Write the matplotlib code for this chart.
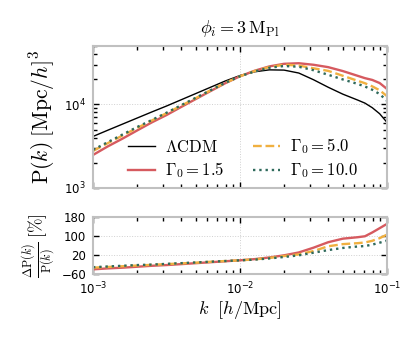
import numpy as np
import matplotlib
matplotlib.use("Agg")
import matplotlib.pyplot as plt
from matplotlib.ticker import FixedLocator, NullFormatter

# ---- data ----
log_k = [-3.0, -2.9, -2.8, -2.7, -2.6, -2.5, -2.4, -2.3, -2.2, -2.1, -2.0,
         -1.9, -1.8, -1.7, -1.6, -1.5, -1.4, -1.3, -1.2, -1.15, -1.1, -1.05, -1.0]
log_P_lcdm = [3.616, 3.690, 3.763, 3.836, 3.909, 3.980, 4.055, 4.130, 4.205, 4.280, 4.345,
              4.390, 4.413, 4.410, 4.375, 4.295, 4.205, 4.122, 4.052, 4.015, 3.960, 3.888, 3.785]
ratio_g15 = [-40, -36, -33, -29, -25, -22, -18, -14, -10, -6, -2,
             3, 10, 19, 31, 51, 74, 89, 95, 99, 115, 133, 151]
ratio_g50 = [-33, -30, -27, -24, -21, -18, -15, -12, -8, -5, -2,
             2, 8, 16, 23, 37, 57, 66, 70, 73, 80, 91, 106]
ratio_g100 = [-31, -28, -25, -22, -20, -17, -14, -11, -8, -5, -2,
              1, 6, 12, 19, 30, 41, 50, 56, 58, 64, 72, 81]

labels = [r"$\Lambda\mathrm{CDM}$", r"$\Gamma_0 = 1.5$", r"$\Gamma_0 = 5.0$", r"$\Gamma_0 = 10.0$"]
colors = ["black", "#d65a5f", "#f0b040", "#2f6a5c"]
styles = ["-", "-", "--", ":"]
widths = [1.0, 1.7, 1.7, 1.7]

k = 10 ** np.array(log_k)
P_lcdm = 10 ** np.array(log_P_lcdm)
ratios = [np.array(ratio_g15), np.array(ratio_g50), np.array(ratio_g100)]
P_models = [P_lcdm * (1 + r / 100.0) for r in ratios]

fig = plt.figure(figsize=(4.15, 3.38), dpi=100)
ax1 = fig.add_axes([0.224, 0.444, 0.7085, 0.420])
ax2 = fig.add_axes([0.224, 0.189, 0.7085, 0.169])

# top panel
ax1.plot(k, P_lcdm, color=colors[0], ls=styles[0], lw=widths[0], label=labels[0])
for P, c, s, w, l in zip(P_models, colors[1:], styles[1:], widths[1:], labels[1:]):
    ax1.plot(k, P, color=c, ls=s, lw=w, label=l)
ax1.set_xscale("log")
ax1.set_yscale("log")
ax1.set_xlim(1e-3, 1e-1)
ax1.set_ylim(1e3, 5e4)
ax1.set_ylabel(r"$\mathrm{P}(k)\;[\mathrm{Mpc}/h]^3$", fontsize=15.5, math_fontfamily="cm",
               labelpad=5)
ax1.set_title(r"$\phi_i = 3\,\mathrm{M}_{\mathrm{Pl}}$", fontsize=13, math_fontfamily="cm", pad=9)
ax1.xaxis.set_major_formatter(NullFormatter())
ax1.xaxis.set_minor_formatter(NullFormatter())
ax1.yaxis.set_minor_formatter(NullFormatter())
leg = ax1.legend(ncol=2, loc="lower center", frameon=False, fontsize=12,
                 handlelength=1.65, handletextpad=0.6, columnspacing=1.7,
                 labelspacing=0.3, borderaxespad=0.05, bbox_to_anchor=(0.51, 0.0))
for t in leg.get_texts():
    t.set_math_fontfamily("cm")

# bottom panel
for r, c, s, w in zip(ratios, colors[1:], styles[1:], widths[1:]):
    ax2.plot(k, r, color=c, ls=s, lw=w)
ax2.set_xscale("log")
ax2.set_xlim(1e-3, 1e-1)
ax2.set_ylim(-60, 180)
ax2.yaxis.set_major_locator(FixedLocator([-60, 20, 100, 180]))
ax2.set_xlabel(r"$k\ \ [h/\mathrm{Mpc}]$", fontsize=13, math_fontfamily="cm", labelpad=1)
ax2.set_ylabel(r"$\frac{\Delta\mathrm{P}(k)}{\mathrm{P}(k)}\;[\%]$", fontsize=12.5,
               math_fontfamily="cm", labelpad=3)
ax2.xaxis.set_minor_formatter(NullFormatter())

for ax in (ax1, ax2):
    for sp in ax.spines.values():
        sp.set_color("#c0c0c0")
        sp.set_linewidth(1.5)
    ax.tick_params(which="both", direction="in", top=True, right=True,
                   labelsize=8.5, color="black", pad=5)
    ax.tick_params(which="major", length=4.5, width=1.0)
    ax.tick_params(which="minor", length=3, width=1.0)
    ax.grid(True, which="major", color="#d0d0d0", lw=0.7, ls=":")
    ax.set_axisbelow(True)

fig.savefig("out.png", dpi=100)
